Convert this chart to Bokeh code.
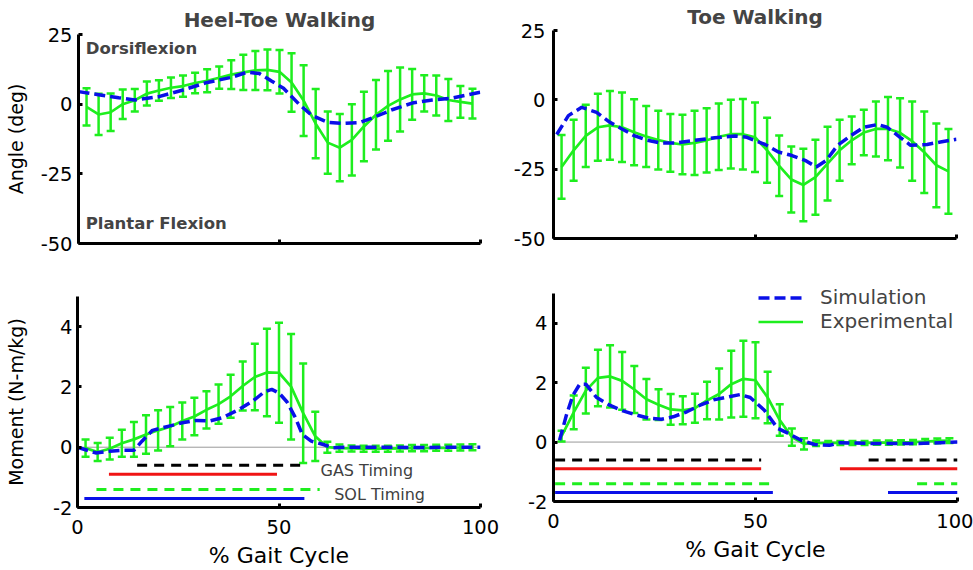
from bokeh.plotting import figure
from bokeh.models import (ColumnDataSource, Whisker, TeeHead, Span, Label, Legend,
                          LegendItem, FixedTicker, Range1d)
from bokeh.layouts import column, row
from bokeh.embed import file_html
from bokeh.resources import INLINE

# ---------------- data ----------------
exp_x = [2, 5, 8, 11, 14, 17, 20, 23, 26, 29, 32, 35, 38, 41, 44, 47, 50,
         53, 56, 59, 62, 65, 68, 71, 74, 77, 80, 83, 86, 89, 92, 95, 98]

# Heel-toe walking, ankle angle (deg)
ht_ang_mean = [-1.0, -3.7, -2.9, 0.0, 1.4, 3.8, 4.9, 5.9, 6.5, 7.6, 8.4, 9.5, 10.6, 11.4, 12.1, 12.3, 11.6,
               7.8, 1.3, -7.0, -13.8, -15.6, -12.8, -8.0, -3.8, -0.6, 1.7, 3.5, 3.9, 3.1, 1.5, 0.8, 0.2]
ht_ang_sd = [6.7, 7.4, 6.7, 5.3, 4.0, 4.3, 3.7, 3.7, 3.8, 3.7, 4.1, 4.0, 5.2, 6.3, 7.0, 7.3, 7.8,
             10.5, 12.7, 12.4, 11.2, 12.1, 12.8, 12.5, 12.5, 12.5, 11.5, 9.1, 6.5, 7.2, 7.5, 5.7, 5.3]
ht_ang_sim_x = [0, 5, 10, 14, 20, 26, 32, 38, 42, 45, 48, 51, 55, 58, 62, 66, 70, 74, 78, 83, 88, 93, 100]
ht_ang_sim = [4.5, 3.4, 2.3, 1.5, 2.7, 5.1, 7.8, 9.6, 11.5, 11.0, 8.3, 5.7, -0.2, -4.0, -6.5, -6.9,
              -6.6, -4.4, -2.0, 0.4, 1.5, 2.2, 4.3]

# Toe walking, ankle angle (deg)
tw_ang_mean = [-24.2, -18.2, -13.0, -9.9, -9.2, -9.9, -11.7, -13.2, -14.5, -15.5, -16.1, -15.5, -14.6,
               -13.3, -12.4, -12.4, -13.5, -18.2, -23.8, -28.7, -30.7, -27.9, -23.0, -18.2, -14.6,
               -11.8, -10.5, -10.4, -11.9, -14.9, -18.9, -23.6, -25.8]
tw_ang_sd = [11.5, 11.0, 11.2, 12.1, 12.4, 12.5, 11.9, 11.0, 10.6, 10.4, 10.7, 11.6, 11.6, 12.0, 12.4,
             12.7, 12.5, 11.7, 10.9, 11.9, 13.1, 13.5, 13.3, 11.0, 8.6, 8.2, 9.9, 11.4, 12.5, 14.3,
             14.7, 15.1, 15.3]
tw_ang_sim_x = [0.8, 3.7, 7, 10.7, 14, 17, 20, 23.3, 26.6, 30, 35, 40, 45, 48, 52.5, 55.8, 59, 62.4,
                65.2, 67.7, 70.5, 73.8, 77, 80.4, 82.8, 86, 88.6, 92.7, 96, 100]
tw_ang_sim = [-12.5, -5.7, -2.7, -4.5, -8.1, -10.5, -12.9, -14.6, -15.6, -15.6, -14.6, -13.7, -13.0,
              -13.5, -16.1, -18.8, -20.0, -21.8, -24.2, -21.8, -16.4, -12.9, -9.9, -8.9, -9.9, -13.5,
              -16.4, -16.1, -15.2, -14.2]

# Heel-toe walking, ankle moment (N-m/kg)
ht_mom_mean = [-0.03, -0.16, -0.05, 0.13, 0.26, 0.42, 0.56, 0.68, 0.87, 1.02, 1.24, 1.43, 1.69, 2.03,
               2.33, 2.48, 2.47, 2.01, 1.13, 0.36, 0.0, -0.03, -0.04, -0.05, -0.05, -0.05, -0.04,
               -0.03, -0.03, -0.02, -0.02, -0.01, 0.0]
ht_mom_sd = [0.29, 0.3, 0.36, 0.45, 0.58, 0.64, 0.67, 0.65, 0.61, 0.62, 0.62, 0.65, 0.71, 0.81, 1.1,
             1.45, 1.66, 1.75, 1.65, 0.82, 0.18, 0.12, 0.1, 0.1, 0.1, 0.1, 0.1, 0.1, 0.1, 0.1, 0.1,
             0.1, 0.1]
ht_mom_sim_x = [0, 4.5, 8, 11.4, 14, 16, 18.6, 22.7, 26, 29.5, 32.8, 36, 40.2, 43.5, 46.4, 48.2, 50,
                52, 54, 55.8, 58, 61, 63.3, 67, 75, 85, 92, 100]
ht_mom_sim = [0.0, -0.19, -0.13, -0.1, -0.1, 0.2, 0.56, 0.7, 0.81, 0.89, 0.87, 0.98, 1.26, 1.53,
              1.84, 1.92, 1.8, 1.5, 1.0, 0.42, 0.2, 0.09, -0.02, 0.0, 0.0, -0.01, 0.0, 0.0]

# Toe walking, ankle moment (N-m/kg)
tw_mom_mean = [0.2, 1.0, 1.73, 2.16, 2.21, 2.06, 1.77, 1.44, 1.26, 1.1, 1.07, 1.14, 1.4, 1.62, 1.95,
               2.13, 2.08, 1.5, 0.74, 0.17, -0.06, -0.04, -0.03, -0.03, -0.03, -0.03, -0.02, -0.02,
               -0.01, 0.0, 0.02, 0.04, 0.05]
tw_mom_sd = [0.18, 0.57, 0.77, 0.95, 1.05, 0.97, 0.79, 0.68, 0.52, 0.52, 0.47, 0.49, 0.63, 0.86, 1.12,
             1.28, 1.28, 0.87, 0.53, 0.29, 0.19, 0.09, 0.07, 0.07, 0.07, 0.07, 0.07, 0.07, 0.07,
             0.07, 0.08, 0.08, 0.08]
tw_mom_sim_x = [1.5, 3.2, 4.8, 6.5, 8, 10.6, 13.9, 17.2, 20.5, 23.8, 26.7, 29.6, 33, 36.3, 39.6,
                42.9, 46.2, 48.7, 52.2, 55.5, 58, 61.3, 64.6, 68.3, 71, 80, 90, 100]
tw_mom_sim = [0.06, 0.91, 1.57, 1.95, 1.95, 1.51, 1.24, 1.05, 0.91, 0.8, 0.77, 0.85, 1.02, 1.24, 1.42,
              1.51, 1.6, 1.5, 1.07, 0.46, 0.3, 0.06, -0.08, -0.11, -0.02, -0.05, -0.05, 0.0]

# Muscle timing bars (start, end in % gait cycle) and their levels
timing_levels = [-0.6, -0.9, -1.4, -1.7]
ht_gas_emg = [(14.8, 55.7)]
ht_gas_sim = [(7.8, 49.5)]
ht_sol_emg = [(4.7, 60.1)]
ht_sol_sim = [(1.7, 56.3)]
tw_gas_emg = [(0.4, 51.4), (78, 100)]
tw_gas_sim = [(0.4, 51.4), (70.9, 100)]
tw_sol_emg = [(0.4, 54.3), (90, 100)]
tw_sol_sim = [(0.4, 54.3), (82.8, 100)]

x_ticks = [0, 50, 100]
ang_ticks = [-50, -25, 0, 25]
mom_ticks = [-2, 0, 2, 4]

# ---------------- style ----------------
GREEN = "#1EEE1E"
BLUE = "#0A10E8"
RED = "#F01414"
BLACK = "#000000"
FONT = "DejaVu Sans"


def make_fig(width, height, left, right, top, bottom, yr, yticks, title=None, ystd=6):
    p = figure(width=width, height=height, output_backend="svg", toolbar_location=None,
               x_range=Range1d(0, 100), y_range=Range1d(*yr),
               min_border_left=left, min_border_right=right,
               min_border_top=top, min_border_bottom=bottom)
    if "frame_align" in p.properties():
        p.frame_align = False
    p.outline_line_color = None
    p.xgrid.visible = False
    p.ygrid.visible = False
    p.background_fill_color = "white"
    p.border_fill_color = "white"
    for ax in (p.xaxis[0], p.yaxis[0]):
        ax.axis_line_width = 3
        ax.axis_line_color = "black"
        ax.major_tick_in = 4
        ax.major_tick_out = 0
        ax.major_tick_line_width = 3
        ax.minor_tick_line_color = None
        ax.major_label_text_font = FONT
        ax.major_label_text_font_size = "19.5px"
        ax.major_label_text_color = "black"
        ax.axis_label_text_font = FONT
        ax.axis_label_text_font_style = "normal"
        ax.axis_label_text_color = "black"
    p.xaxis.ticker = FixedTicker(ticks=x_ticks)
    p.yaxis.ticker = FixedTicker(ticks=yticks)
    p.xaxis.major_label_overrides = {t: str(t) for t in x_ticks}
    p.yaxis.major_label_overrides = {t: str(t) for t in yticks}
    p.yaxis.major_label_standoff = ystd
    p.xaxis.major_label_standoff = 12
    p.xaxis.axis_label_text_font_size = "22px"
    p.yaxis.axis_label_text_font_size = "19px"
    if title:
        p.title.text = title
        p.title.align = "center"
        p.title.text_font = FONT
        p.title.text_font_size = "20px"
        p.title.text_font_style = "bold"
        p.title.standoff = 5
    return p


def add_exp(p, mean, sd):
    src = ColumnDataSource(dict(x=exp_x, mean=mean,
                                upper=[m + s for m, s in zip(mean, sd)],
                                lower=[m - s for m, s in zip(mean, sd)]))
    w = Whisker(base="x", upper="upper", lower="lower", source=src,
                line_color=GREEN, line_width=2.5, level="underlay",
                upper_head=TeeHead(size=8, line_color=GREEN, line_width=2.5),
                lower_head=TeeHead(size=8, line_color=GREEN, line_width=2.5))
    p.add_layout(w)
    return p.line("x", "mean", source=src, line_color=GREEN, line_width=2.7)


def add_sim(p, xs, ys):
    return p.line(xs, ys, line_color=BLUE, line_width=3.5, line_dash="11 5")


def add_timing(p, bars_list):
    styles = [(BLACK, "10 7"), (RED, "solid"), (GREEN, "10 7"), (BLUE, "solid")]
    for bars, level, (col, dash) in zip(bars_list, timing_levels, styles):
        p.segment(x0=[b[0] for b in bars], x1=[b[1] for b in bars],
                  y0=[level] * len(bars), y1=[level] * len(bars),
                  line_color=col, line_width=3, line_dash=dash)


# ---------------- panel 1: heel-toe angle ----------------
p1 = make_fig(510, 285, 78, 30, 34, 42, (-50, 25), ang_ticks, "Heel-Toe Walking", ystd=6)
p1.yaxis.axis_label = "Angle (deg)"
p1.yaxis.axis_label_standoff = 11
p1.xaxis.major_label_text_color = None
add_exp(p1, ht_ang_mean, ht_ang_sd)
add_sim(p1, ht_ang_sim_x, ht_ang_sim)
p1.add_layout(Label(x=1.8, y=20, text="Dorsiflexion", text_baseline="middle",
                    text_font=FONT, text_font_size="16.5px", text_font_style="bold"))
p1.add_layout(Label(x=1.8, y=-42.7, text="Plantar Flexion", text_baseline="middle",
                    text_font=FONT, text_font_size="16.5px", text_font_style="bold"))

# ---------------- panel 2: toe walking angle ----------------
p2 = make_fig(463, 285, 42, 17, 29, 47, (-50, 25), ang_ticks, "Toe Walking", ystd=8)
p2.title.standoff = 4
p2.xaxis.major_label_text_color = None
add_exp(p2, tw_ang_mean, tw_ang_sd)
add_sim(p2, tw_ang_sim_x, tw_ang_sim)

# ---------------- panel 3: heel-toe moment ----------------
p3 = make_fig(510, 285, 77, 30, 11, 63, (-2, 5), mom_ticks, ystd=5)
p3.yaxis.axis_label = "Moment (N-m/kg)"
p3.yaxis.axis_label_standoff = 23
p3.xaxis.axis_label = "% Gait Cycle"
p3.xaxis.axis_label_standoff = 6
p3.add_layout(Span(location=0, dimension="width", line_color="#999999", line_width=1,
                   level="underlay"))
add_timing(p3, [ht_gas_emg, ht_gas_sim, ht_sol_emg, ht_sol_sim])
add_exp(p3, ht_mom_mean, ht_mom_sd)
add_sim(p3, ht_mom_sim_x, ht_mom_sim)
p3.add_layout(Label(x=60.3, y=-0.77, text="GAS Timing", text_baseline="middle",
                    text_font=FONT, text_font_size="16px", text_color="#404040"))
p3.add_layout(Label(x=63.7, y=-1.57, text="SOL Timing", text_baseline="middle",
                    text_font=FONT, text_font_size="16px", text_color="#404040"))

# ---------------- panel 4: toe walking moment ----------------
# frame extended to the top of the canvas (same px/unit scale) so the legend is not clipped;
# the axis line itself is bounded to -2..5
p4 = make_fig(463, 285, 43, 16, 0, 69, (-2, 5.27), mom_ticks, ystd=6)
p4.yaxis.bounds = (-2, 5)
p4.xaxis.axis_label = "% Gait Cycle"
p4.xaxis.axis_label_standoff = 6
p4.add_layout(Span(location=0, dimension="width", line_color="#999999", line_width=1,
                   level="underlay"))
add_timing(p4, [tw_gas_emg, tw_gas_sim, tw_sol_emg, tw_sol_sim])
r_exp = add_exp(p4, tw_mom_mean, tw_mom_sd)
r_sim = add_sim(p4, tw_mom_sim_x, tw_mom_sim)
legend = Legend(items=[LegendItem(label="Simulation", renderers=[r_sim]),
                       LegendItem(label="Experimental", renderers=[r_exp])],
                location=(205, 168), border_line_color=None, background_fill_alpha=0,
                padding=0, margin=0, spacing=0, glyph_width=45, glyph_height=21,
                label_standoff=17, label_height=21, label_text_font=FONT,
                label_text_font_size="20px", label_text_line_height=1.0)
p4.add_layout(legend)

layout = column(row(p1, p2), row(p3, p4))

with open("out.html", "w") as f:
    f.write(file_html(layout, INLINE))
